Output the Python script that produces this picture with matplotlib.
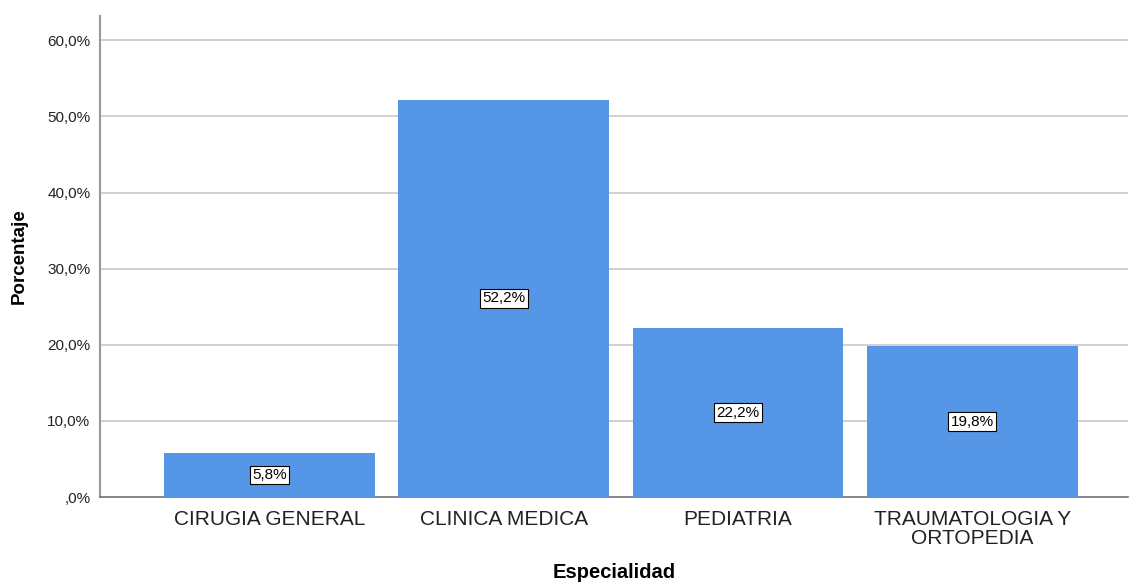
import numpy as np
import matplotlib.pyplot as plt

plt.rcParams['font.family'] = ['Liberation Sans', 'DejaVu Sans']

especialidades = ["CIRUGIA GENERAL", "CLINICA MEDICA", "PEDIATRIA", "TRAUMATOLOGIA Y\nORTOPEDIA"]
porcentajes = [5.8, 52.2, 22.2, 19.8]
yticks = [0, 10, 20, 30, 40, 50, 60]

fig = plt.figure(figsize=(11.29, 5.83), dpi=100)
ax = fig.add_axes([0.0886, 0.1475, 0.9105, 0.825])

x = np.arange(len(especialidades))
bars = ax.bar(x, porcentajes, width=0.9, color="#5596e6", zorder=3)

for xi, v in zip(x, porcentajes):
    etiqueta = f"{v:.1f}%".replace(".", ",")
    ax.text(xi, v / 2, etiqueta, ha="center", va="center", fontsize=11, zorder=4,
            bbox=dict(boxstyle="square,pad=0.15", fc="white", ec="black", lw=0.8))

ax.set_xlim(-0.723, 3.665)
ax.set_ylim(0, 63.2)
ax.set_yticks(yticks)
ax.set_yticklabels([(f"{t:.1f}%".replace(".", ",") if t else ",0%") for t in yticks])
ax.set_xticks(x)
ax.set_xticklabels(especialidades, fontsize=15, color="#222222", linespacing=1.0)
ax.tick_params(axis="y", length=0, labelsize=11, pad=7, labelcolor="#222222")
ax.tick_params(axis="x", length=0, pad=9)
ax.grid(axis="y", color="#c8c8c8", lw=1.2, zorder=0)

for s in ["top", "right"]:
    ax.spines[s].set_visible(False)
ax.spines["left"].set_color("#999999")
ax.spines["left"].set_linewidth(1.5)
ax.spines["bottom"].set_color("#777777")
ax.spines["bottom"].set_linewidth(1.2)

ax.set_xlabel("Especialidad", fontsize=14.5, fontweight="bold", labelpad=11)
ax.set_ylabel("Porcentaje", fontsize=13.5, fontweight="bold", labelpad=14)

fig.savefig("out.png", dpi=100)
